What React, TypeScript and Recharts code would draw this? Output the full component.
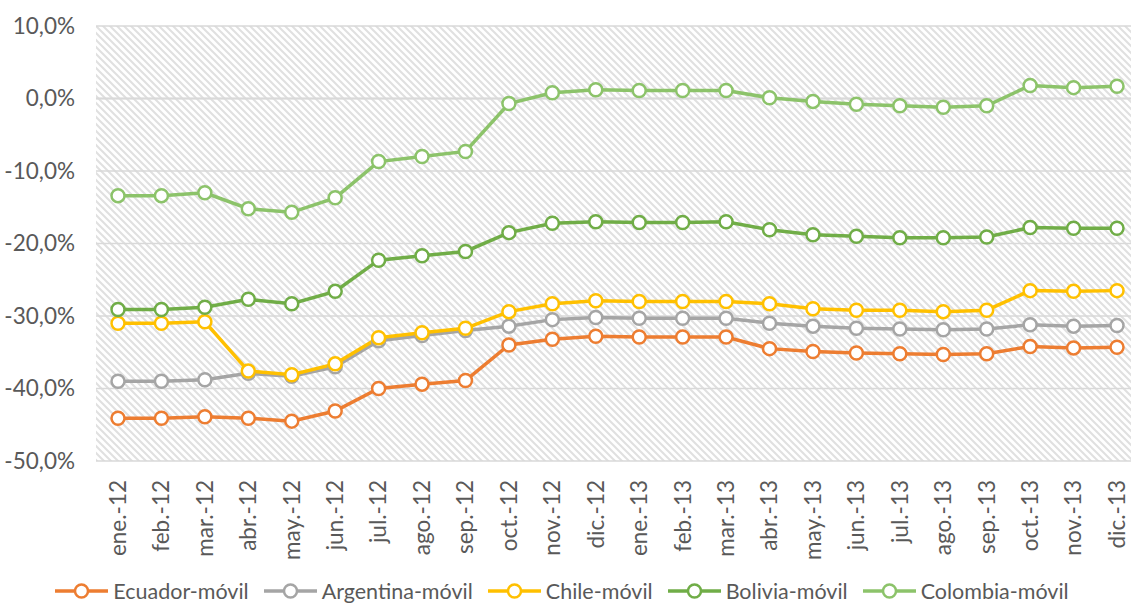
import React from "react";
import { LineChart, Line, XAxis, YAxis, CartesianGrid, Legend, ReferenceLine } from "recharts";

const months = [
  "ene.-12", "feb.-12", "mar.-12", "abr.-12", "may.-12", "jun.-12",
  "jul.-12", "ago.-12", "sep.-12", "oct.-12", "nov.-12", "dic.-12",
  "ene.-13", "feb.-13", "mar.-13", "abr.-13", "may.-13", "jun.-13",
  "jul.-13", "ago.-13", "sep.-13", "oct.-13", "nov.-13", "dic.-13",
];

const ecuador = [-44.1, -44.1, -43.9, -44.1, -44.5, -43.1, -40.0, -39.4, -38.9, -34.0, -33.2, -32.8, -32.9, -32.9, -32.9, -34.5, -34.9, -35.1, -35.2, -35.3, -35.2, -34.2, -34.4, -34.3];
const argentina = [-39.0, -39.0, -38.8, -37.9, -38.3, -37.0, -33.4, -32.7, -32.0, -31.4, -30.5, -30.2, -30.3, -30.3, -30.3, -31.0, -31.4, -31.7, -31.8, -31.9, -31.8, -31.2, -31.4, -31.3];
const chile = [-31.0, -31.0, -30.8, -37.6, -38.1, -36.6, -33.0, -32.3, -31.7, -29.4, -28.3, -27.9, -28.0, -28.0, -28.0, -28.3, -29.0, -29.2, -29.2, -29.4, -29.2, -26.5, -26.6, -26.5];
const bolivia = [-29.1, -29.1, -28.8, -27.7, -28.3, -26.6, -22.3, -21.7, -21.1, -18.5, -17.2, -17.0, -17.1, -17.1, -17.0, -18.1, -18.8, -19.0, -19.2, -19.2, -19.1, -17.8, -17.9, -17.9];
const colombia = [-13.4, -13.4, -13.0, -15.2, -15.7, -13.7, -8.7, -8.0, -7.3, -0.7, 0.8, 1.2, 1.1, 1.1, 1.1, 0.1, -0.4, -0.8, -1.0, -1.2, -1.0, 1.8, 1.5, 1.7];

const yTicks = [10, 0, -10, -20, -30, -40, -50];

const series = [
  { key: "ecuador", name: "Ecuador-móvil", color: "#ED7D31", values: ecuador },
  { key: "argentina", name: "Argentina-móvil", color: "#A5A5A5", values: argentina },
  { key: "chile", name: "Chile-móvil", color: "#FFC000", values: chile },
  { key: "bolivia", name: "Bolivia-móvil", color: "#70AD47", values: bolivia },
  { key: "colombia", name: "Colombia-móvil", color: "#8CC36A", values: colombia },
];

const data = months.map((m, i) => {
  const row: any = { month: m };
  series.forEach((s) => (row[s.key] = s.values[i]));
  return row;
});

const FONT = "Lato, 'Noto Sans', sans-serif";
const FS = 22.5;

const fmt = (v: number) => v.toFixed(1).replace(".", ",") + "%";

const MonthTick = (props: any) => {
  const { x, y, payload } = props;
  const ty = y + 11;
  return (
    <text
      x={x}
      y={ty}
      transform={`rotate(-90 ${x} ${ty})`}
      textAnchor="end"
      dy="0.35em"
      fill="#595959"
      fontSize={FS}
      fontFamily={FONT}
    >
      {payload.value}
    </text>
  );
};

const LegendContent = () => (
  <div
    style={{
      height: 30,
      display: "flex",
      justifyContent: "center",
      alignItems: "flex-start",
      paddingTop: 7,
      boxSizing: "border-box",
      fontFamily: FONT,
      fontSize: 21.5,
      color: "#595959",
    }}
  >
    {series.map((s) => (
      <div key={s.key} style={{ display: "flex", alignItems: "center", height: 18, marginRight: 15, whiteSpace: "nowrap" }}>
        <svg width={53} height={18} style={{ marginRight: 5, overflow: "visible" }}>
          <line x1={0} y1={9} x2={53} y2={9} stroke={s.color} strokeWidth={3.5} />
          <circle cx={26.5} cy={9} r={6.5} fill="#fff" stroke={s.color} strokeWidth={2.5} />
        </svg>
        <span style={{ lineHeight: "18px" }}>{s.name}</span>
      </div>
    ))}
  </div>
);

export default function App() {
  return (
    <div style={{ position: "absolute", left: 0, top: 0, width: 1131, height: 605, overflow: "hidden", background: "#fff" }}>
      <LineChart width={1150} height={605} data={data} margin={{ top: 26, right: 11, left: 0, bottom: 0 }}>
        <defs>
          <pattern id="hatch" patternUnits="userSpaceOnUse" width={7} height={7}>
            <rect width={7} height={7} fill="#ffffff" />
            <path d="M-1,-1 L8,8 M-1,6 L1,8 M6,-1 L8,1" stroke="#E0E0E0" strokeWidth={2} />
          </pattern>
        </defs>
        <CartesianGrid vertical={false} fill="url(#hatch)" stroke="#D9D9D9" strokeWidth={1.5} />
        <XAxis
          dataKey="month"
          axisLine={false}
          tickLine={false}
          interval={0}
          height={114}
          padding={{ left: 22, right: 22 }}
          tick={<MonthTick />}
        />
        <YAxis
          domain={[-50, 10]}
          ticks={yTicks}
          width={96}
          axisLine={false}
          tickLine={false}
          tickSize={0}
          tickMargin={21}
          tickFormatter={fmt}
          tick={{ fill: "#595959", fontSize: FS, fontFamily: FONT }}
        />
        <ReferenceLine y={0} stroke="#D9D9D9" strokeWidth={2} />
        <Legend verticalAlign="bottom" content={<LegendContent />} />
        {series.map((s) => (
          <Line
            key={s.key}
            dataKey={s.key}
            name={s.name}
            stroke={s.color}
            strokeWidth={3.5}
            dot={{ r: 6.5, fill: "#fff", stroke: s.color, strokeWidth: 2.5 }}
            activeDot={false}
            isAnimationActive={false}
          />
        ))}
      </LineChart>
    </div>
  );
}
